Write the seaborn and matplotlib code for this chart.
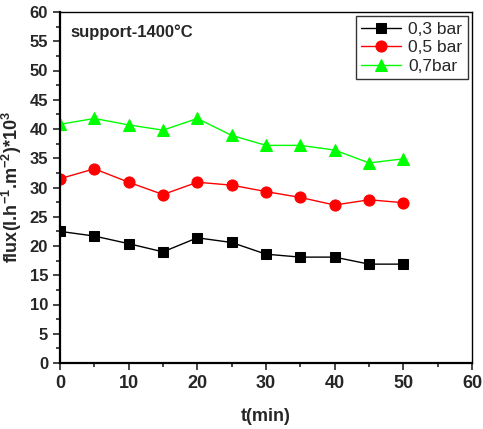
import matplotlib
matplotlib.use("Agg")
import matplotlib.pyplot as plt
import seaborn as sns
import pandas as pd
from matplotlib.ticker import MultipleLocator

time_min = [0, 5, 10, 15, 20, 25, 30, 35, 40, 45, 50]
flux_03 = [22.5, 21.7, 20.4, 19.0, 21.4, 20.6, 18.6, 18.1, 18.1, 16.9, 16.9]
flux_05 = [31.5, 33.2, 30.9, 28.8, 30.9, 30.4, 29.3, 28.3, 27.0, 27.9, 27.4]
flux_07 = [40.8, 41.8, 40.7, 39.8, 41.8, 38.9, 37.2, 37.2, 36.4, 34.2, 34.9]
series_labels = ["0,3 bar", "0,5 bar", "0,7bar"]
colors = ["#000000", "#ff0000", "#00ff00"]
markers = ["s", "o", "^"]
msizes = [7, 8, 9]

sns.set_style("ticks")
plt.rcParams['font.family'] = ['Liberation Sans', 'DejaVu Sans']
plt.rcParams['mathtext.fontset'] = 'custom'
plt.rcParams['mathtext.rm'] = 'Liberation Sans:bold'
plt.rcParams['mathtext.bf'] = 'Liberation Sans:bold'
plt.rcParams['mathtext.it'] = 'Liberation Sans:bold'

fig = plt.figure(figsize=(4.83, 4.29), dpi=100)
ax = fig.add_axes([60/483, 1-363/429, (472-60)/483, (363-12)/429])

for vals, lab, c, m, ms in zip([flux_03, flux_05, flux_07], series_labels, colors, markers, msizes):
    df = pd.DataFrame({"t": time_min, "flux": vals})
    sns.lineplot(data=df, x="t", y="flux", ax=ax, color=c, marker=m, markersize=ms,
                 markeredgecolor=c, linewidth=1, label=lab)

ax.set_xlim(0, 60)
ax.set_ylim(0, 60)
ax.xaxis.set_major_locator(MultipleLocator(10))
ax.xaxis.set_minor_locator(MultipleLocator(5))
ax.yaxis.set_major_locator(MultipleLocator(5))
ax.yaxis.set_minor_locator(MultipleLocator(2.5))
ax.tick_params(axis='both', which='major', direction='out', length=5, width=1.2, labelsize=12)
ax.tick_params(axis='both', which='minor', direction='out', length=3, width=1.2)
for lbl in ax.get_xticklabels() + ax.get_yticklabels():
    lbl.set_fontweight('bold')
ax.tick_params(axis='x', labelsize=13)
for name, sp in ax.spines.items():
    sp.set_color('black')
    sp.set_linewidth(1.6 if name in ('left', 'bottom') else 1.0)

ax.set_xlabel("t(min)", fontsize=13, fontweight='bold', labelpad=12)
ax.set_ylabel(r"flux(l.h$^{-1}$.m$^{-2}$)*10$^{3}$", fontsize=13, fontweight='bold', labelpad=4)
ax.text(0.025, 0.965, "support-1400°C", transform=ax.transAxes, fontsize=12,
        fontweight='bold', va='top', ha='left')

leg = ax.legend(loc='upper right', fontsize=12.5, frameon=True, fancybox=False,
                edgecolor='black', borderpad=0.3, labelspacing=0.2, handlelength=2.3,
                handletextpad=0.4, borderaxespad=0.25)
leg.get_frame().set_linewidth(1)

fig.savefig("out.png", dpi=100)
